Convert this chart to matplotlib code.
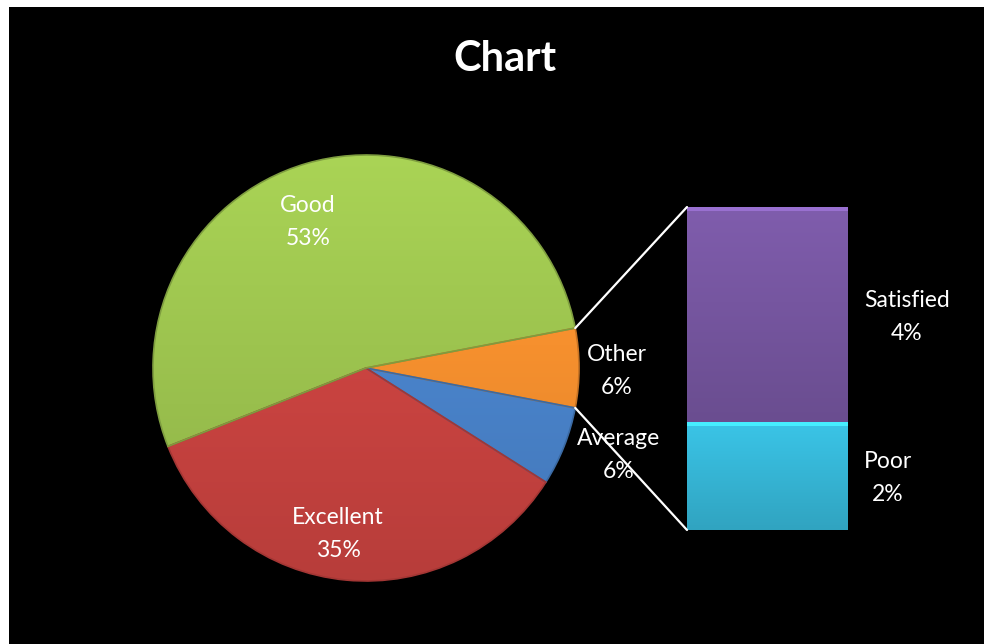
import numpy as np
import matplotlib
matplotlib.use("Agg")
import matplotlib.pyplot as plt
from matplotlib.patches import Rectangle, ConnectionPatch, Wedge
from matplotlib.colors import to_rgb

plt.rcParams['font.family'] = ['Lato', 'DejaVu Sans']

# ---- data ----
pie_labels = ["Other", "Average", "Excellent", "Good"]
pie_values = [6, 6, 35, 53]
pie_colors = ["#F6902E", "#4A84CC", "#CC4441", "#9DC44F"]

bar_labels = ["Poor", "Satisfied"]
bar_values = [2, 4]
bar_colors = ["#36B6D6", "#7656A0"]

title = "Chart"

W, H = 984, 644
fig = plt.figure(figsize=(W / 100, H / 100), dpi=100, facecolor="black")
ax = fig.add_axes([0, 0, 1, 1])
ax.set_facecolor("black")

# white strips at top and left of the picture
fig.patches.append(Rectangle((0, 1 - 7 / H), 1, 7 / H, transform=fig.transFigure,
                             facecolor="white", edgecolor="none", zorder=10))
fig.patches.append(Rectangle((0, 0), 9 / W, 1, transform=fig.transFigure,
                             facecolor="white", edgecolor="none", zorder=10))

center = (366, 276)
radius = 213
other_angle = 360 * pie_values[0] / sum(pie_values)
wedges, _ = ax.pie(pie_values, colors=pie_colors, center=center, radius=radius,
                   startangle=other_angle / 2, counterclock=False, frame=True,
                   wedgeprops=dict(edgecolor="none", linewidth=0))


def shade(color, top=1.08, bottom=0.9):
    c = np.array(to_rgb(color))
    t = np.linspace(0, 1, 64)[:, None]
    f = top * (1 - t) + bottom * t
    return np.clip(c[None, :] * f, 0, 1)[:, None, :]


for w, col in zip(wedges, pie_colors):
    img = ax.imshow(shade(col), extent=[center[0] - radius, center[0] + radius,
                                        center[1] - radius, center[1] + radius],
                    origin="upper", aspect="auto", zorder=2, interpolation="bilinear")
    img.set_clip_path(w)
    w.set_zorder(1)
    ax.add_patch(Wedge(w.center, w.r, w.theta1, w.theta2, facecolor="none",
                       edgecolor=np.array(to_rgb(col)) * 0.8,
                       linewidth=1.2, zorder=3))

ax.set_xlim(0, W)
ax.set_ylim(0, H)
ax.set_aspect("auto")
ax.axis("off")

# ---- bar of pie ----
bx0, bx1, by_top, by_bot = 687, 848, 207, 530
bax = fig.add_axes([bx0 / W, (H - by_bot) / H, (bx1 - bx0) / W, (by_bot - by_top) / H])
bax.axis("off")
bottom = 0
for v, col in zip(bar_values, bar_colors):
    rect = bax.bar(0, v, width=1, bottom=bottom, color=col, edgecolor="none")[0]
    img = bax.imshow(shade(col, 1.08, 0.9), extent=[-0.5, 0.5, bottom, bottom + v],
                     origin="upper", aspect="auto", zorder=2, interpolation="bilinear")
    img.set_clip_path(rect)
    # bevel highlight at top
    bax.add_patch(Rectangle((-0.5, bottom + v - 0.07), 1, 0.07,
                            facecolor=np.clip(np.array(to_rgb(col)) * 1.3, 0, 1),
                            edgecolor="none", zorder=3))
    bottom += v
bax.set_xlim(-0.5, 0.5)
bax.set_ylim(0, sum(bar_values))

# connector lines
t1 = np.deg2rad(wedges[0].theta2)
t2 = np.deg2rad(wedges[0].theta1)
p_top = (center[0] + radius * np.cos(t1), center[1] + radius * np.sin(t1))
p_bot = (center[0] + radius * np.cos(t2), center[1] + radius * np.sin(t2))
for pA, yb in [(p_top, sum(bar_values)), (p_bot, 0)]:
    con = ConnectionPatch(xyA=pA, coordsA=ax.transData, xyB=(-0.5, yb),
                          coordsB=bax.transData, color="white", linewidth=1.6)
    fig.add_artist(con)

# ---- labels ----
fs = 16.5
txt = dict(color="white", fontsize=fs, linespacing=1.7, va="center")
pie_label_pos = {"Good": (308, 422), "Excellent": (338, 110),
                 "Other": (617, 273), "Average": (619, 189)}
for lab, v in zip(pie_labels, pie_values):
    x, y = pie_label_pos[lab]
    ax.text(x, y, f"{lab}\n{v}%", ha="center", multialignment="center", zorder=5, **txt)

bar_label_pos = {"Poor": (864, 166), "Satisfied": (864, 327)}
for lab, v in zip(bar_labels, bar_values):
    x, y = bar_label_pos[lab]
    ax.text(x, y, f"{lab}\n{v}%", ha="left", multialignment="center", zorder=5, **txt)

ax.text(505, 585, title, color="white", fontsize=30, fontweight="bold",
        ha="center", va="center")

fig.savefig("out.png", dpi=100, facecolor="black")
